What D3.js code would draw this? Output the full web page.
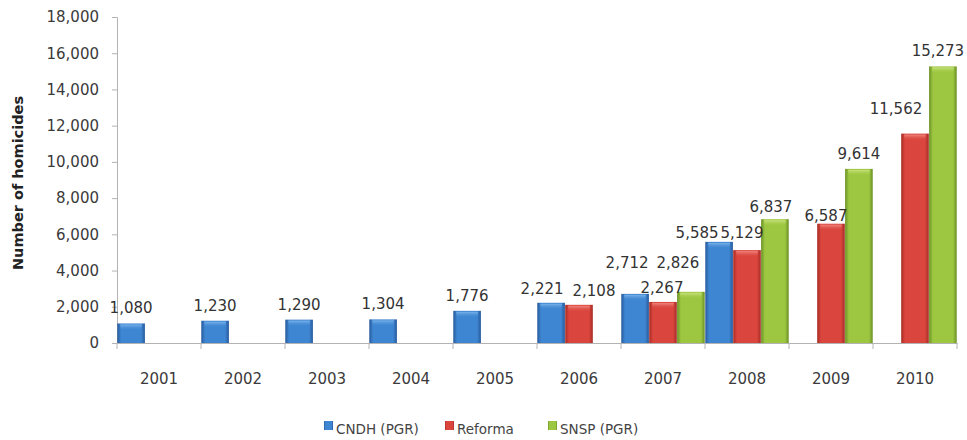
<!DOCTYPE html>
<html>
<head>
<meta charset="utf-8">
<script src="https://cdn.jsdelivr.net/npm/d3@7"></script>
<style>
  body { margin: 0; background: #fff; }
  svg { display: block; font-family: "DejaVu Sans", sans-serif; }
</style>
</head>
<body>
<svg id="chart" width="967" height="440"></svg>
<script>
// data
var years = ['2001', '2002', '2003', '2004', '2005', '2006', '2007', '2008', '2009', '2010'];
var cndh = [1080, 1230, 1290, 1304, 1776, 2221, 2712, 5585, null, null];
var reforma = [null, null, null, null, null, 2108, 2267, 5129, 6587, 11562];
var snsp = [null, null, null, null, null, null, 2826, 6837, 9614, 15273];
var seriesNames = ['CNDH (PGR)', 'Reforma', 'SNSP (PGR)'];
var yTicks = [0, 2000, 4000, 6000, 8000, 10000, 12000, 14000, 16000, 18000];

// colours: [edge, middle, top highlight]
var palette = [
  ['#27599b', '#3e86d2', '#7ab3ea'],
  ['#a62b24', '#da463e', '#f08780'],
  ['#6a9125', '#9dc741', '#c8e27c']
];

// hand placed labels in the original (offset from default spot)
var labelNudge = {
  '0-2006': [-9, 1], '1-2006': [15, 1],
  '0-2007': [-8, -16], '1-2007': [-1, 1], '2-2007': [-13, -14],
  '0-2008': [-22, 6], '1-2008': [-5, -2], '2-2008': [-4, 3],
  '1-2009': [-5, 7], '1-2010': [-19, -10], '2-2010': [-5, 0]
};

var svg = d3.select('#chart');
var margin = {left: 117, right: 10, top: 17, bottom: 97};
var W = 967, H = 440;

var series = [cndh, reforma, snsp];

var x0 = d3.scaleBand().domain(years).range([margin.left, W - margin.right]).padding(0);
var x1 = d3.scaleBand().domain([0, 1, 2]).range([0, x0.bandwidth()]).paddingInner(0.01).paddingOuter(0.01);
var y = d3.scaleLinear().domain([0, 18000]).range([H - margin.bottom, margin.top]);

// gradients for the bevelled bars
var defs = svg.append('defs');
palette.forEach(function(c, i) {
  var g = defs.append('linearGradient').attr('id', 'side' + i)
    .attr('x1', 0).attr('x2', 1).attr('y1', 0).attr('y2', 0);
  g.append('stop').attr('offset', '0%').attr('stop-color', c[0]);
  g.append('stop').attr('offset', '14%').attr('stop-color', c[1]);
  g.append('stop').attr('offset', '86%').attr('stop-color', c[1]);
  g.append('stop').attr('offset', '100%').attr('stop-color', c[0]);
  var t = defs.append('linearGradient').attr('id', 'top' + i)
    .attr('x1', 0).attr('x2', 0).attr('y1', 0).attr('y2', 1);
  t.append('stop').attr('offset', '0%').attr('stop-color', c[2]);
  t.append('stop').attr('offset', '100%').attr('stop-color', c[1]).attr('stop-opacity', 0);
});

// y axis
var yAxis = svg.append('g')
  .attr('transform', 'translate(' + margin.left + ',0)')
  .call(d3.axisLeft(y).tickValues(yTicks).tickFormat(d3.format(',')).tickSize(5).tickPadding(13));
yAxis.select('.domain').attr('stroke', '#b3b3b3');
yAxis.selectAll('.tick line').attr('stroke', '#b3b3b3');
yAxis.selectAll('text').attr('fill', '#3a3a3a').style('font-size', '15px')
  .style('font-family', '"DejaVu Sans", sans-serif');

// x axis
var xAxis = svg.append('g')
  .attr('transform', 'translate(0,' + y(0) + ')')
  .call(d3.axisBottom(x0).tickSize(0).tickPadding(30));
xAxis.select('.domain').attr('stroke', '#b3b3b3');
xAxis.selectAll('text').attr('fill', '#3a3a3a').style('font-size', '15px')
  .style('font-family', '"DejaVu Sans", sans-serif');
// tick marks sit on the category edges
svg.append('g').selectAll('line')
  .data(years.concat(['end']))
  .join('line')
  .attr('x1', function(d, i) { return margin.left + i * x0.step(); })
  .attr('x2', function(d, i) { return margin.left + i * x0.step(); })
  .attr('y1', y(0)).attr('y2', y(0) + 6)
  .attr('stroke', '#b3b3b3');

// bars
var bars = [];
series.forEach(function(vals, s) {
  vals.forEach(function(v, i) {
    if (v != null) bars.push({s: s, year: years[i], value: v});
  });
});

var barG = svg.append('g');
barG.selectAll('rect.bar')
  .data(bars)
  .join('rect')
  .attr('class', 'bar')
  .attr('x', function(d) { return x0(d.year) + x1(d.s); })
  .attr('y', function(d) { return y(d.value); })
  .attr('width', x1.bandwidth())
  .attr('height', function(d) { return y(0) - y(d.value); })
  .attr('fill', function(d) { return 'url(#side' + d.s + ')'; });

barG.selectAll('rect.cap')
  .data(bars)
  .join('rect')
  .attr('class', 'cap')
  .attr('x', function(d) { return x0(d.year) + x1(d.s) + 3; })
  .attr('y', function(d) { return y(d.value) + 1; })
  .attr('width', x1.bandwidth() - 6)
  .attr('height', 6)
  .attr('fill', function(d) { return 'url(#top' + d.s + ')'; });

// value labels
svg.append('g').selectAll('text')
  .data(bars)
  .join('text')
  .attr('x', function(d) {
    var n = labelNudge[d.s + '-' + d.year] || [0, 0];
    return x0(d.year) + x1(d.s) + x1.bandwidth() / 2 + n[0];
  })
  .attr('y', function(d) {
    var n = labelNudge[d.s + '-' + d.year] || [0, 0];
    return y(d.value) - 10 + n[1];
  })
  .attr('text-anchor', 'middle')
  .attr('fill', '#333')
  .style('font-size', '15px')
  .text(function(d) { return d3.format(',')(d.value); });

// y title
svg.append('text')
  .attr('transform', 'translate(23,' + 183 + ') rotate(-90)')
  .attr('text-anchor', 'middle')
  .attr('fill', '#222')
  .style('font-size', '14.5px')
  .style('font-weight', 'bold')
  .text('Number of homicides');

// legend
var legendX = [324, 445, 548];
var legend = svg.append('g').selectAll('g')
  .data(seriesNames)
  .join('g')
  .attr('transform', function(d, i) { return 'translate(' + legendX[i] + ',430)'; });
legend.append('rect')
  .attr('x', 0).attr('y', -9).attr('width', 9).attr('height', 9)
  .attr('fill', function(d, i) { return 'url(#side' + i + ')'; });
legend.append('text')
  .attr('x', 12).attr('y', 4)
  .attr('fill', '#444')
  .style('font-size', '13.5px')
  .text(function(d) { return d; });
</script>
</body>
</html>
